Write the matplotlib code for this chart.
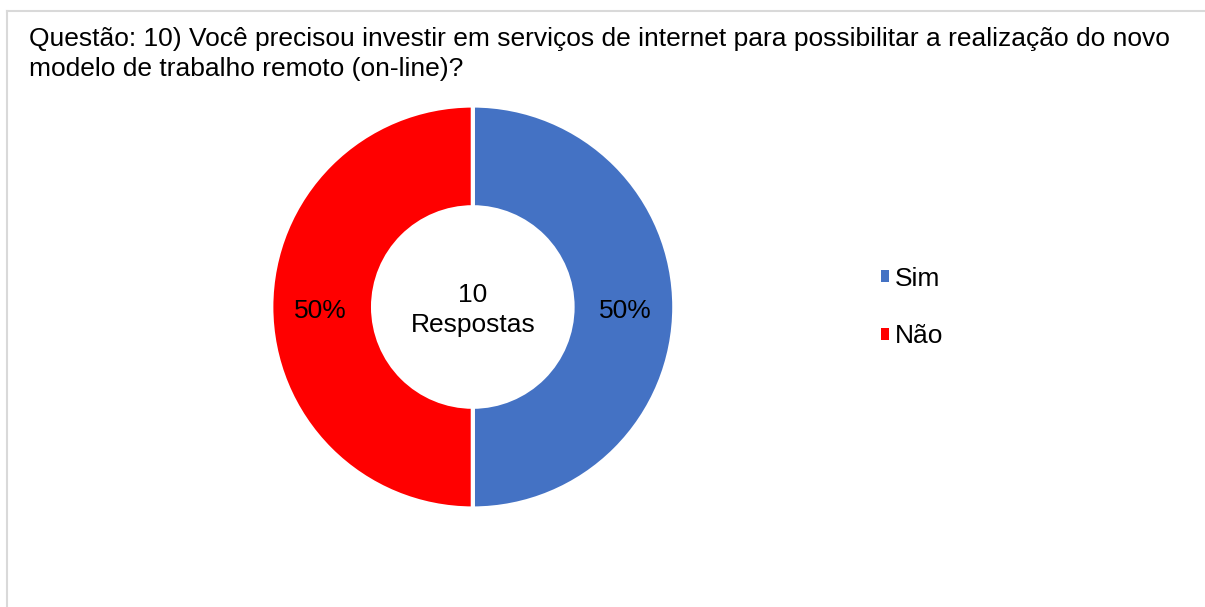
import matplotlib
matplotlib.use("Agg")
import matplotlib.pyplot as plt
from matplotlib.lines import Line2D

plt.rcParams['font.family'] = ['Liberation Sans', 'DejaVu Sans']

title = "Questão: 10) Você precisou investir em serviços de internet para possibilitar a realização do novo\nmodelo de trabalho remoto (on-line)?"
categories = ["Sim", "Não"]
values = [5, 5]
colors = ["#4472C4", "#FF0000"]
center_text = "10\nRespostas"

W, H = 1205, 607
fig = plt.figure(figsize=(W / 100, H / 100), dpi=100)

# border
fig.add_artist(Line2D([7.5 / W, 7.5 / W], [0, 1 - 10.5 / H], color="#d9d9d9", lw=1.5, transform=fig.transFigure))
fig.add_artist(Line2D([7.5 / W, 1.0], [1 - 10.5 / H, 1 - 10.5 / H], color="#d9d9d9", lw=1.5, transform=fig.transFigure))

fig.text(29 / W, 1 - 27 / H, title, fontsize=19, va='top', ha='left', linespacing=1.32)

cx, cy, r = 472.8, 307, 201.5
ax = fig.add_axes([(cx - r) / W, (H - cy - r) / H, 2 * r / W, 2 * r / H])
wedges, texts, autotexts = ax.pie(
    values, colors=colors, startangle=90, counterclock=False, radius=1,
    autopct=lambda p: f"{p:.0f}%", pctdistance=0.755,
    wedgeprops=dict(width=0.505, edgecolor="white", linewidth=3),
    textprops=dict(fontsize=19, color="black"))
for t in autotexts:
    t.set_y(t.get_position()[1] - 0.02)
ax.set_xlim(-1, 1)
ax.set_ylim(-1, 1)
ax.set_aspect('equal')
ax.axis('off')
ax.text(0, -0.015, center_text, ha='center', va='center', fontsize=19, linespacing=1.28)

fig.legend(wedges, categories, loc='center left', bbox_to_anchor=(868 / W, 1 - 307.5 / H),
           frameon=False, fontsize=19, handlelength=0.3, handleheight=0.3,
           handletextpad=0.22, borderpad=0.0, labelspacing=1.27)
leg = fig.legends[0]
for h in leg.legend_handles:
    h.set_edgecolor(h.get_facecolor())
    h.set_linewidth(0)

fig.savefig("out.png", dpi=100)
